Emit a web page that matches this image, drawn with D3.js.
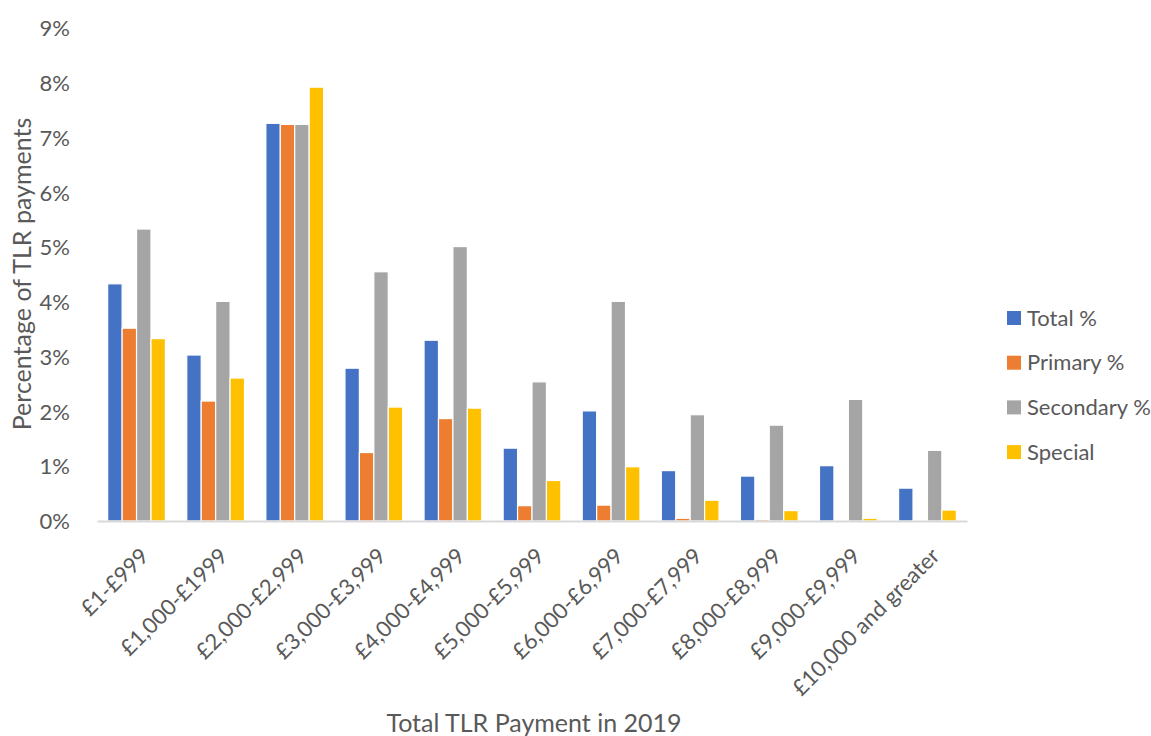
<!DOCTYPE html>
<html>
<head>
<meta charset="utf-8">
<script src="https://cdn.jsdelivr.net/npm/d3@7"></script>
<style>
  html, body { margin: 0; padding: 0; background: #fff; }
  svg { display: block; }
  svg text { font-family: Lato, "Open Sans", sans-serif; }
</style>
</head>
<body>
<svg id="chart" width="1151" height="736"></svg>
<script>
// Payment bands (x categories)
const categories = [
  "£1-£999", "£1,000-£1999", "£2,000-£2,999", "£3,000-£3,999", "£4,000-£4,999",
  "£5,000-£5,999", "£6,000-£6,999", "£7,000-£7,999", "£8,000-£8,999",
  "£9,000-£9,999", "£10,000 and greater"
];

// Series names and values (percentage of TLR payments)
const seriesNames = ["Total %", "Primary %", "Secondary %", "Special"];
const totalPct     = [4.33, 3.03, 7.26, 2.79, 3.30, 1.33, 2.01, 0.92, 0.82, 1.01, 0.60];
const primaryPct   = [3.52, 2.19, 7.24, 1.25, 1.87, 0.28, 0.29, 0.05, 0.03, 0.01, 0.01];
const secondaryPct = [5.33, 4.01, 7.24, 4.55, 5.01, 2.54, 4.01, 1.94, 1.75, 2.22, 1.29];
const specialPct   = [3.33, 2.61, 7.92, 2.08, 2.06, 0.74, 0.99, 0.38, 0.19, 0.05, 0.20];
const seriesValues = [totalPct, primaryPct, secondaryPct, specialPct];
const seriesColors = ["#4472c4", "#ed7d31", "#a5a5a5", "#ffc000"];

// Y ticks
const yTicks = [0, 1, 2, 3, 4, 5, 6, 7, 8, 9];

const svg = d3.select("#chart");
const margin = { left: 97, right: 184, top: 28, bottom: 215 };
const width = 1151, height = 736;
const font = "Lato, 'Open Sans', sans-serif";

const x = d3.scaleBand()
  .domain(categories)
  .range([margin.left, width - margin.right])
  .paddingInner(0.27)
  .paddingOuter(0.135);

const xInner = d3.scaleBand()
  .domain(seriesNames)
  .range([0, x.bandwidth()]);

const y = d3.scaleLinear()
  .domain([0, 9])
  .range([height - margin.bottom, margin.top]);

const textColor = "#595959";

// Y axis labels (no line, no ticks)
const yAxis = svg.append("g")
  .attr("transform", `translate(${margin.left - 24},0)`)
  .call(d3.axisLeft(y).tickValues(yTicks).tickSize(0).tickFormat(d => d + "%"))
  .attr("font-family", font);
yAxis.select(".domain").remove();
yAxis.selectAll("text")
  .attr("fill", textColor)
  .attr("font-size", 22)
  .attr("dy", "0.35em");

// Bars
const groups = svg.append("g")
  .selectAll("g")
  .data(categories)
  .join("g")
  .attr("transform", d => `translate(${x(d)},0)`);

groups.selectAll("rect")
  .data((d, i) => seriesNames.map((s, k) => ({ s, v: seriesValues[k][i], c: seriesColors[k] })))
  .join("rect")
  .attr("x", d => xInner(d.s))
  .attr("width", xInner.bandwidth())
  .attr("y", d => y(d.v))
  .attr("height", d => y(0) - y(d.v))
  .attr("fill", d => d.c)
  .attr("stroke", "#ffffff")
  .attr("stroke-width", 1.2);

// X axis line and rotated category labels
const xAxis = svg.append("g")
  .attr("transform", `translate(0,${y(0)})`)
  .call(d3.axisBottom(x).tickSize(0).tickPadding(0))
  .attr("font-family", font);
xAxis.select(".domain")
  .attr("stroke", "#d9d9d9")
  .attr("stroke-width", 2);
xAxis.selectAll("text")
  .attr("fill", textColor)
  .attr("font-size", 22)
  .attr("text-anchor", "end")
  .attr("y", 0)
  .attr("dy", "0.35em")
  .attr("transform", "translate(8,31) rotate(-45)");

// Axis titles
svg.append("text")
  .attr("x", 534)
  .attr("y", 732)
  .attr("text-anchor", "middle")
  .attr("fill", textColor)
  .attr("font-size", 25)
  .text("Total TLR Payment in 2019");

svg.append("text")
  .attr("transform", "translate(31,274) rotate(-90)")
  .attr("text-anchor", "middle")
  .attr("fill", textColor)
  .attr("font-size", 25)
  .text("Percentage of TLR payments");

// Legend
const legend = svg.append("g")
  .attr("transform", "translate(1007,318)")
  .selectAll("g")
  .data(seriesNames)
  .join("g")
  .attr("transform", (d, i) => `translate(0,${i * 44.7})`);
legend.append("rect")
  .attr("x", 0).attr("y", -7)
  .attr("width", 14).attr("height", 14)
  .attr("fill", (d, i) => seriesColors[i]);
legend.append("text")
  .attr("x", 20)
  .attr("dy", "0.35em")
  .attr("fill", textColor)
  .attr("font-size", 22)
  .text(d => d);
</script>
</body>
</html>
